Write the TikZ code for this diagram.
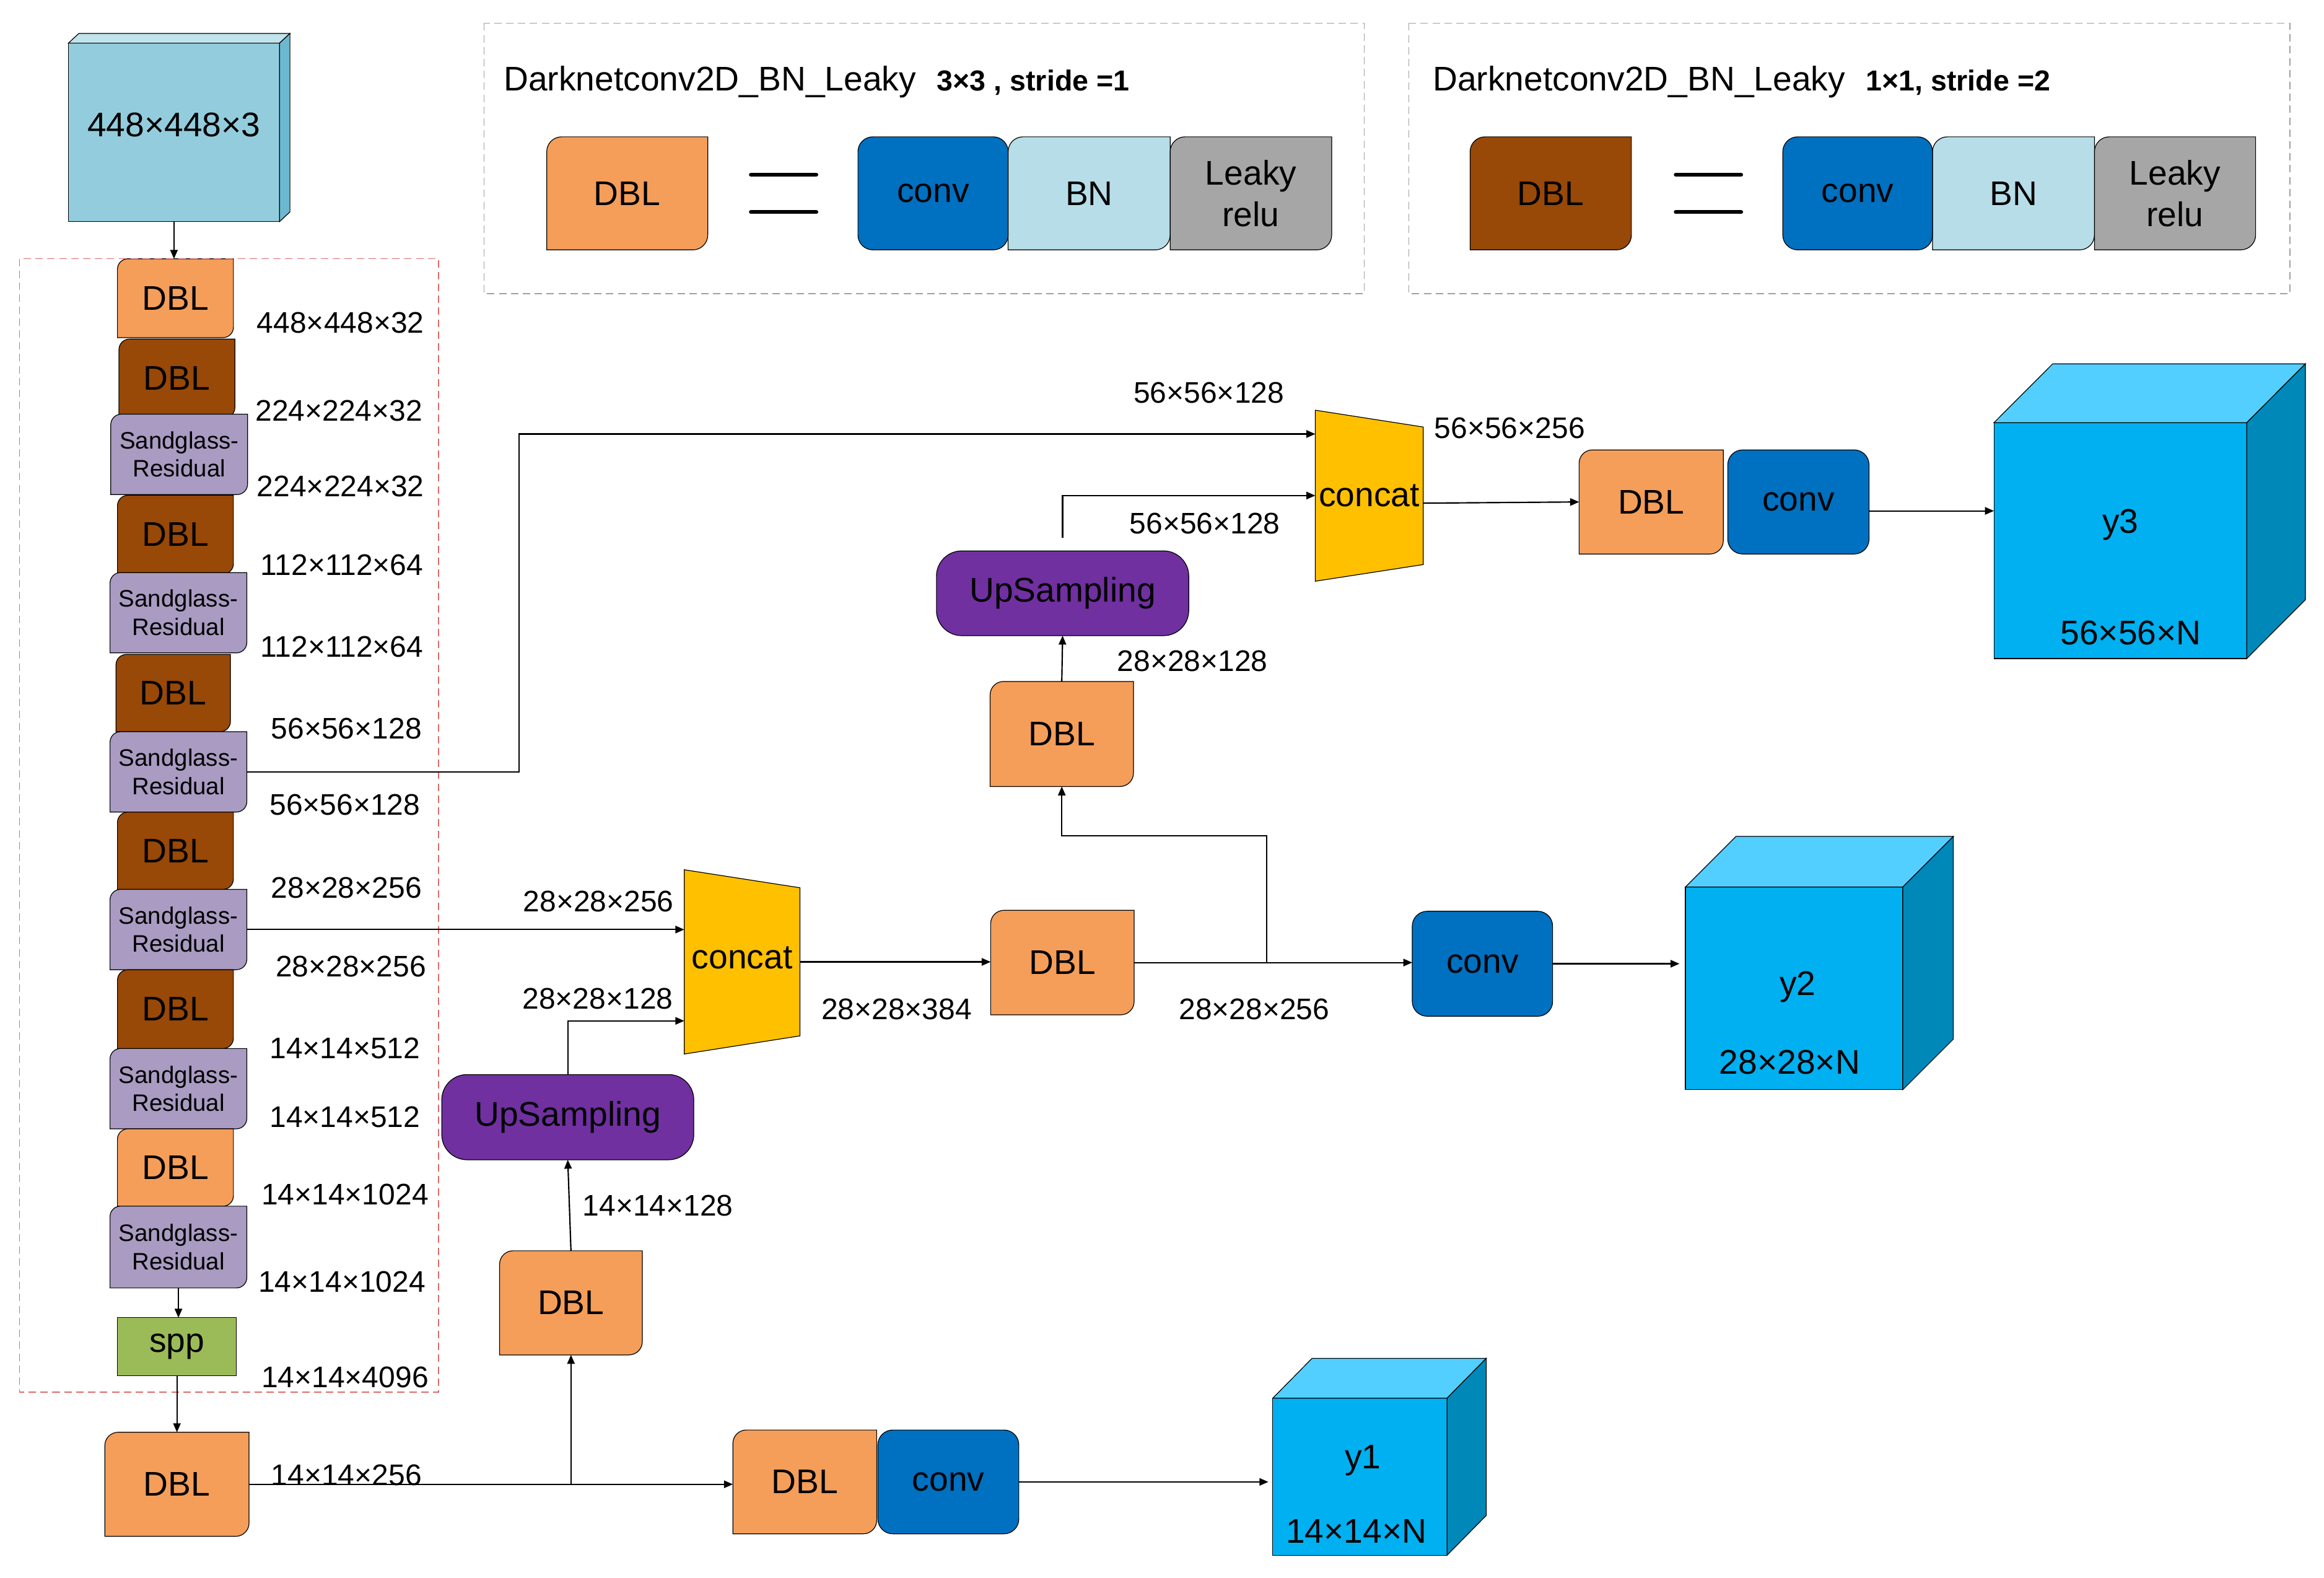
\documentclass[tikz,border=0pt]{standalone}
\usepackage{fontspec}
\setmainfont{Liberation Sans}
\usetikzlibrary{arrows.meta,backgrounds,calc}
\definecolor{dblO}{HTML}{F49E5A}
\definecolor{dblB}{HTML}{984807}
\definecolor{sgC}{HTML}{A99BC1}
\definecolor{sppC}{HTML}{9BBB59}
\definecolor{convC}{HTML}{0070C0}
\definecolor{bnC}{HTML}{B7DEE8}
\definecolor{lrC}{HTML}{A6A6A6}
\definecolor{upC}{HTML}{7030A0}
\definecolor{catC}{HTML}{FFC000}
\definecolor{cubeF}{HTML}{00B0F0}
\definecolor{cubeT}{HTML}{53CFFF}
\definecolor{cubeS}{HTML}{0088B9}
\definecolor{inF}{HTML}{93CDDD}
\definecolor{inT}{HTML}{C1E3EB}
\definecolor{inS}{HTML}{6BB8CF}
\definecolor{redD}{HTML}{DD6A6A}
\definecolor{greyD}{HTML}{A0A0A0}

% diagonal rounded rectangle behind a node: name, colour, radius
\newcommand\diagfill[3]{%
  \begin{scope}[on background layer]
  \filldraw[fill=#2, draw=black, line width=0.5pt]
    ([yshift=-#3pt]#1.north west) arc[start angle=180,end angle=90,radius=#3pt]
    -- (#1.north east) -- ([yshift=#3pt]#1.south east)
    arc[start angle=0,end angle=-90,radius=#3pt] -- (#1.south west) -- cycle;
  \end{scope}}
% cube faces: name, dx, dy, top colour, side colour
\newcommand\cubefaces[5]{%
  \filldraw[fill=#4, line width=0.5pt] (#1.north west) -- ++(#2,#3) -- ($(#1.north east)+(#2,#3)$) -- (#1.north east) -- cycle;
  \filldraw[fill=#5, line width=0.5pt] (#1.north east) -- ++(#2,#3) -- ($(#1.south east)+(#2,#3)$) -- (#1.south east) -- cycle;}

\tikzset{
  blk/.style 2 args={minimum width=#1pt, minimum height=#2pt, inner sep=0pt, outer sep=0pt, font=\fontsize{23}{27}\selectfont},
  lbl/.style={inner sep=0pt, font=\fontsize{20}{24}\selectfont},
  sg/.style={blk={92}{54}, align=center, font=\fontsize{16}{19}\selectfont},
  arr/.style={line width=0.9pt, -{Triangle[length=6pt,width=5pt]}},
  ln/.style={line width=0.9pt},
  bord/.style={line width=0.5pt},
  ttl/.style={anchor=base west, inner sep=0pt, font=\fontsize{23}{27}\selectfont},
  ttb/.style={anchor=base west, inner sep=0pt, font=\fontsize{19.4}{23}\selectfont\bfseries},
  eqbar/.style={line width=2.6pt, line cap=round},
  dashbox/.style={line width=0.6pt, dash pattern=on 5pt off 3pt},
  cubetxt/.style={anchor=base, inner sep=0pt, font=\fontsize{23}{27}\selectfont},
}

\begin{document}
\begin{tikzpicture}[x=1pt,y=1pt]
\useasboundingbox (0,0) rectangle (1563,-1061);

% ---------- dashed frames ----------
\draw[redD, dashbox] (13.2,-174) rectangle (295,-936);
\draw[greyD, dashbox] (325.5,-15.6) rectangle (917.5,-197.5);
\draw[greyD, dashbox] (947.4,-15.6) rectangle (1540,-197.5);

% ---------- legend 1 ----------
\node[ttl] (t1) at (338.6,-61) {Darknetconv2D\_BN\_Leaky};
\node[ttb] (s1) at (630,-61) {3×3 , stride =1};
\node[blk={108.3}{76}] (LD1) at (421.85,-130) {DBL}; \diagfill{LD1}{dblO}{10}
\draw[eqbar] (505,-117.4) -- (549,-117.4);
\draw[eqbar] (505,-142.6) -- (549,-142.6);
\node[blk={101}{76}, draw, fill=convC, rounded corners=10pt, bord] (LC1) at (627.5,-130) {conv};
\node[blk={109}{76}] (LB1) at (732.5,-130) {BN}; \diagfill{LB1}{bnC}{10}
\node[blk={108.6}{76}, align=center, font=\fontsize{23}{28}\selectfont] (LL1) at (841.3,-130) {Leaky\\relu}; \diagfill{LL1}{lrC}{10}

% ---------- legend 2 ----------
\node[ttl] (t2) at (963.4,-61) {Darknetconv2D\_BN\_Leaky};
\node[ttb] (s2) at (1254.7,-61) {1×1, stride =2};
\node[blk={108.5}{76}] (LD2) at (1042.95,-130) {DBL}; \diagfill{LD2}{dblB}{10}
\draw[eqbar] (1127,-117.4) -- (1171,-117.4);
\draw[eqbar] (1127,-142.6) -- (1171,-142.6);
\node[blk={100.7}{76}, draw, fill=convC, rounded corners=10pt, bord] (LC2) at (1249.35,-130) {conv};
\node[blk={108.9}{76}] (LB2) at (1354.15,-130) {BN}; \diagfill{LB2}{bnC}{10}
\node[blk={108.4}{76}, align=center, font=\fontsize{23}{28}\selectfont] (LL2) at (1462.8,-130) {Leaky\\relu}; \diagfill{LL2}{lrC}{10}

% ---------- input ----------
\node[blk={142}{120}, draw, fill=inF, bord, text depth=10pt] (in) at (117,-89) {448×448×3};
\cubefaces{in}{7}{6.5}{inT}{inS}

% ---------- backbone column ----------
\node[blk={78}{53}] (D1) at (118,-200.5) {DBL}; \diagfill{D1}{dblO}{7}
\node[blk={78}{53}] (D2) at (119,-254.5) {DBL}; \diagfill{D2}{dblB}{7}
\node[sg] (S1) at (120.5,-305.5) {Sandglass-\\Residual}; \diagfill{S1}{sgC}{7}
\node[blk={78}{53}] (D3) at (118,-359.5) {DBL}; \diagfill{D3}{dblB}{7}
\node[sg] (S2) at (120,-412) {Sandglass-\\Residual}; \diagfill{S2}{sgC}{7}
\node[blk={77}{52}] (D4) at (116.5,-466) {DBL}; \diagfill{D4}{dblB}{7}
\node[sg] (S3) at (120,-519) {Sandglass-\\Residual}; \diagfill{S3}{sgC}{7}
\node[blk={78}{52}] (D5) at (118,-572) {DBL}; \diagfill{D5}{dblB}{7}
\node[sg] (S4) at (120,-625) {Sandglass-\\Residual}; \diagfill{S4}{sgC}{7}
\node[blk={78}{53}] (D6) at (118,-678.5) {DBL}; \diagfill{D6}{dblB}{7}
\node[sg] (S5) at (120,-732) {Sandglass-\\Residual}; \diagfill{S5}{sgC}{7}
\node[blk={78}{52}] (D7) at (118,-785) {DBL}; \diagfill{D7}{dblO}{7}
\node[sg, minimum height=55pt] (S6) at (120,-838.5) {Sandglass-\\Residual}; \diagfill{S6}{sgC}{7}
\node[blk={80}{39}, draw, fill=sppC, bord] (spp) at (119,-905.5) {spp};
\node[blk={97}{70}] (DB) at (119,-998) {DBL}; \diagfill{DB}{dblO}{9}

% column labels
\node[lbl] at (229,-217) {448×448×32};
\node[lbl] at (228,-276) {224×224×32};
\node[lbl] at (229,-327) {224×224×32};
\node[lbl] at (230,-380) {112×112×64};
\node[lbl] at (230,-435) {112×112×64};
\node[lbl] at (233,-490) {56×56×128};
\node[lbl] at (232,-541) {56×56×128};
\node[lbl] at (233,-597) {28×28×256};
\node[lbl] at (236,-650) {28×28×256};
\node[lbl] at (232,-705) {14×14×512};
\node[lbl] at (232,-751) {14×14×512};
\node[lbl] at (232,-803) {14×14×1024};
\node[lbl] at (230,-862) {14×14×1024};
\node[lbl] at (232,-926) {14×14×4096};
\node[lbl] at (233,-992) {14×14×256};

% ---------- concat shapes ----------
\filldraw[fill=catC, bord] (460.2,-584.8) -- (538,-596.9) -- (538,-696.5) -- (460.2,-708.7) -- cycle;
\node[blk={77.8}{123.9}, text depth=6pt] (cat1) at (499.1,-646.75) {concat};
\filldraw[fill=catC, bord] (884.6,-275.8) -- (957.2,-287.1) -- (957.2,-379.6) -- (884.6,-390.8) -- cycle;
\node[blk={72.6}{115}] (cat2) at (920.9,-333.3) {concat};

% ---------- neck / heads ----------
\node[blk={96}{70}] (DL) at (384,-876) {DBL}; \diagfill{DL}{dblO}{9}
\node[blk={169.5}{57.3}, draw, fill=upC, rounded corners=17pt, bord] (UP1) at (381.85,-751.15) {UpSampling};
\node[blk={96.5}{70.3}] (DM) at (714.5,-647.2) {DBL}; \diagfill{DM}{dblO}{9}
\node[blk={96.4}{70.6}] (DU) at (714.1,-493.5) {DBL}; \diagfill{DU}{dblO}{9}
\node[blk={169.7}{57}, draw, fill=upC, rounded corners=17pt, bord] (UP2) at (714.65,-398.9) {UpSampling};
\node[blk={97}{70}] (DT) at (1110.5,-337.5) {DBL}; \diagfill{DT}{dblO}{9}
\node[blk={95}{70}, draw, fill=convC, rounded corners=10pt, bord] (CT) at (1209.5,-337.5) {conv};
\node[blk={94.4}{70.6}, draw, fill=convC, rounded corners=10pt, bord] (CM) at (997,-648) {conv};
\node[blk={96.7}{69.8}] (DBot) at (541.25,-996.4) {DBL}; \diagfill{DBot}{dblO}{9}
\node[blk={94.8}{69.8}, draw, fill=convC, rounded corners=10pt, bord] (CB) at (637.8,-996.4) {conv};

% output cubes
\node[blk={170}{158.6}, draw, fill=cubeF, bord] (y3) at (1426,-363.5) {};
\cubefaces{y3}{39.5}{39.6}{cubeT}{cubeS}
\node[cubetxt] at (1426,-358.3) {y3};
\node[cubetxt] at (1433,-433.5) {56×56×N};
\node[blk={146.2}{136.3}, draw, fill=cubeF, bord] (y2) at (1206.6,-664.55) {};
\cubefaces{y2}{34}{34}{cubeT}{cubeS}
\node[cubetxt] at (1209,-669.2) {y2};
\node[cubetxt] at (1203.7,-722.3) {28×28×N};
\node[blk={117.2}{105.6}, draw, fill=cubeF, bord] (y1) at (914.6,-992.9) {};
\cubefaces{y1}{26.4}{26.8}{cubeT}{cubeS}
\node[cubetxt] at (916.6,-987.3) {y1};
\node[cubetxt] at (912.2,-1037.5) {14×14×N};

% neck labels
\node[lbl] at (402.5,-606) {28×28×256};
\node[lbl] at (402,-671.3) {28×28×128};
\node[lbl] at (442.5,-810.5) {14×14×128};
\node[lbl] at (603,-678.4) {28×28×384};
\node[lbl] at (843.5,-678.4) {28×28×256};
\node[lbl] at (802,-444.4) {28×28×128};
\node[lbl] at (813,-264) {56×56×128};
\node[lbl] at (810.3,-351.9) {56×56×128};
\node[lbl] at (1015.3,-288) {56×56×256};

% ---------- connectors ----------
\draw[arr] (in.south) -- (in.south |- D1.north);
\draw[arr] (S6.south) -- (S6.south |- spp.north);
\draw[arr] (spp.south) -- (spp.south |- DB.north);
\draw[arr] (S3.east) -| (349,-291.8) -- (cat2.west |- 0,-291.8);
\draw[arr] (S4.east) -- (S4.east -| cat1.west);
\draw[arr] (DB.east) -- (DB.east -| DBot.west);
\coordinate (jb) at (DB.east -| DL.south);
\draw[arr] (jb) -- (DL.south);
\draw[arr] (DL.north) -- (UP1.south);
\draw[arr] (UP1.north) |- (cat1.west |- 0,-686.4);
\draw[arr] (cat1.east) -- (cat1.east -| DM.west);
\draw[arr] (DM.east) -- (DM.east -| CM.west);
\coordinate (jm) at (DM.east -| 852,0);
\coordinate (km) at (714.1,-562);
\draw[arr] (jm) -- (jm |- km) -- (km) -- (DU.south);
\draw[arr] (DU.north) -- (UP2.south);
\coordinate (u2) at ($(UP2.north)+(0,9)$);
\draw[arr] (u2) |- (cat2.west |- 0,-333.2);
\draw[arr] ([yshift=-5pt]cat2.east) -- (DT.west);
\draw[arr] ([yshift=-6pt]CT.east) -- ([yshift=-6pt]CT.east -| y3.west);
\draw[arr] (CM.east) -- ($(CM.east -| y2.west)+(-4,0)$);
\draw[arr] (CB.east) -- ($(CB.east -| y1.west)+(-3,0)$);
\end{tikzpicture}
\end{document}
